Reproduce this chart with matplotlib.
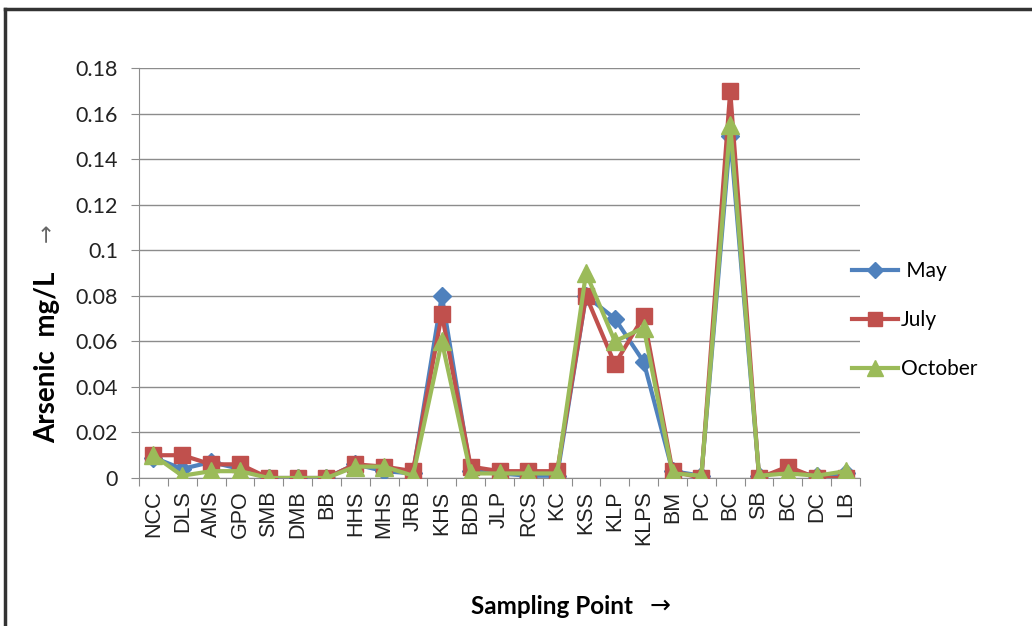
import matplotlib.pyplot as plt
from matplotlib.lines import Line2D

# sampling points along the river (BC appears twice in the survey)
sites = ['NCC', 'DLS', 'AMS', 'GPO', 'SMB', 'DMB', 'BB', 'HHS', 'MHS', 'JRB',
         'KHS', 'BDB', 'JLP', 'RCS', 'KC', 'KSS', 'KLP', 'KLPS', 'BM', 'PC',
         'BC', 'SB', 'BC', 'DC', 'LB']

# arsenic, mg/L
may = [0.009, 0.004, 0.007, 0.004, 0.0, 0.0, 0.0, 0.006, 0.003, 0.002,
       0.080, 0.003, 0.002, 0.001, 0.001, 0.080, 0.070, 0.051, 0.003, 0.001,
       0.150, 0.001, 0.003, 0.001, 0.002]
july = [0.010, 0.010, 0.006, 0.006, 0.0, 0.0, 0.0, 0.006, 0.005, 0.003,
        0.072, 0.005, 0.003, 0.003, 0.003, 0.080, 0.050, 0.071, 0.003, 0.0,
        0.170, 0.0, 0.005, 0.0, 0.0]
october = [0.010, 0.001, 0.003, 0.003, 0.0, 0.0, 0.0, 0.005, 0.005, 0.001,
           0.060, 0.002, 0.002, 0.002, 0.002, 0.090, 0.060, 0.066, 0.002, 0.001,
           0.155, 0.001, 0.002, 0.001, 0.003]

yticks = [0, 0.02, 0.04, 0.06, 0.08, 0.1, 0.12, 0.14, 0.16, 0.18]
ytick_labels = ['0', '0.02', '0.04', '0.06', '0.08', '0.1', '0.12', '0.14', '0.16', '0.18']

plt.rcParams['font.family'] = ['Lato', 'DejaVu Sans']

fig = plt.figure(figsize=(10.32, 6.26), dpi=100)
ax = fig.add_axes([139 / 1032, 1 - 478 / 626, 721 / 1032, 410 / 626])

x = list(range(len(sites)))
ax.plot(x, may, color='#4F81BD', lw=3, marker='D', ms=9, label=' May', zorder=3)
ax.plot(x, july, color='#C0504D', lw=3, marker='s', ms=11, label='July', zorder=4)
ax.plot(x, october, color='#9BBB59', lw=3, marker='^', ms=13, label='October', zorder=5)

ax.set_xlim(-0.5, len(sites) - 0.5)
ax.set_ylim(0, 0.18)
ax.set_yticks(yticks)
ax.set_yticklabels(ytick_labels, fontsize=15.5, color='#222222')
ax.yaxis.grid(True, color='#8c8c8c', lw=1)
ax.set_axisbelow(True)

# category boundaries get the tick marks, centres get the labels
ax.set_xticks([i - 0.5 for i in range(len(sites) + 1)])
ax.set_xticklabels([])
ax.set_xticks(x, minor=True)
ax.set_xticklabels(sites, minor=True, rotation=90, fontsize=15.5,
                   family='Liberation Sans', color='#222222')
ax.tick_params(axis='x', which='major', length=6, color='#8c8c8c')
ax.tick_params(axis='x', which='minor', length=0, pad=9)
ax.tick_params(axis='y', length=6, color='#8c8c8c', pad=9)

for side in ['top', 'right']:
    ax.spines[side].set_visible(False)
for side in ['left', 'bottom']:
    ax.spines[side].set_color('#8c8c8c')

fig.text(47 / 1032, 1 - 357 / 626, 'Arsenic  mg/L', rotation=90, fontsize=20,
         fontweight='bold', ha='center', va='center')
fig.text(47 / 1032, 1 - 233 / 626, '\u2192', rotation=90, fontsize=16,
         color='#666666', ha='center', va='center', family='DejaVu Sans')
fig.text(552 / 1032, 1 - 607 / 626, 'Sampling Point', fontsize=17.5,
         fontweight='bold', ha='center', va='center')
fig.text(660 / 1032, 1 - 606 / 626, '\u2192', fontsize=18,
         ha='center', va='center', family='DejaVu Sans')

ax.legend(loc='center left', bbox_to_anchor=(0.989, 0.385), frameon=False,
          fontsize=15, handlelength=2.2, labelspacing=1.4, handletextpad=0.15,
          borderpad=0, borderaxespad=0, markerscale=0.9)

# frame around the chart
fig.add_artist(Line2D([5 / 1032, 1], [1 - 9 / 626, 1 - 9 / 626], color='#333333', lw=2.5))
fig.add_artist(Line2D([5 / 1032, 5 / 1032], [0, 1 - 9 / 626], color='#333333', lw=2.5))

fig.savefig('out.png', dpi=100)
